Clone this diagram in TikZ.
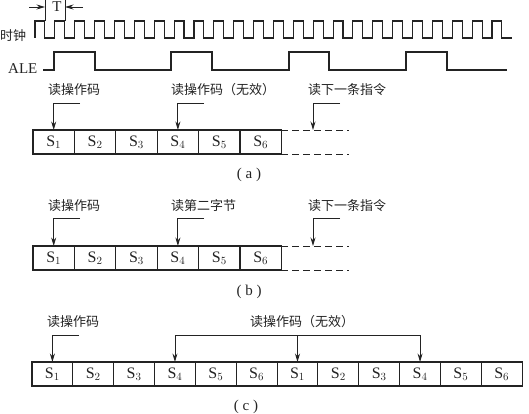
\documentclass[tikz,border=0pt]{standalone}
\usepackage{fontspec}
\setmainfont{Liberation Serif}
\newfontfamily\cjk{Noto Sans CJK SC}
\usetikzlibrary{arrows.meta,positioning}
\definecolor{ink}{RGB}{35,35,35}
\tikzset{
  >={Stealth[length=8.5pt,width=5pt]},
  x=1pt,y=-1pt,
  cell/.style={draw=ink,line width=1.1pt,minimum height=24pt,minimum width=#1,inner sep=0pt,outer sep=0pt,
    font=\fontsize{16}{16}\selectfont,text=ink},
  cell/.default=41.4pt,
  wave/.style={draw=ink,line width=1.1pt},
  lead/.style={->,draw=ink,line width=0.9pt},
  tag/.style={font=\cjk\fontsize{13}{13}\selectfont,text=ink,inner sep=0pt,anchor=west},
  subcap/.style={font=\fontsize{15}{15}\selectfont,text=ink,inner sep=0pt},
  trail/.style={draw=ink,line width=0.9pt,dash pattern=on 7pt off 4pt},
}
\begin{document}
\begin{tikzpicture}
  \useasboundingbox (0,0) rectangle (529,414);
  % clock
  \draw[wave] (35,38) \foreach \k in {0,...,23} {
      -- ++(0,-17) -- ++(9.93,0) -- ++(0,17) -- ++(9.94,0)};
  \node[tag,text=ink] (clk) at (0,36) {时钟};
  % ALE
  \node[font=\fontsize{15}{15}\selectfont,text=ink,inner sep=0pt,anchor=west] (ale) at (8,69) {ALE};
  \coordinate (aleend) at (507,70);
  \draw[wave] (43,70) -- (54,70) -- (54,52) -- (95,52) -- (95,70) -- (171,70) -- (171,52) -- (212,52) -- (212,70)
    -- (289,70) -- (289,52) -- (329,52) -- (329,70) -- (406,70) -- (406,52) -- (447,52) -- (447,70) -- (aleend);
  % period mark
  \coordinate (ta) at (45,0); \coordinate (tb) at (65,0);
  \coordinate (ta1) at (45,21); \coordinate (tb1) at (65,21);
  \draw[draw=ink,line width=0.7pt] (ta) -- (ta1) (tb) -- (tb1);
  \coordinate (tl) at (29,7); \coordinate (tr) at (83,7);
  \coordinate (tal) at (45,7); \coordinate (tbr) at (65,7);
  \draw[lead] (tl) -- (tal);
  \draw[lead] (tr) -- (tbr);
  \node[subcap] (T) at (57,7) {T};
  % row a
  \foreach \n [count=\i from 0] in {1,...,6}
    \node[cell] (a\n) at (53.7+41.4*\i,142) {S$_{\n}$};
  \coordinate (a7t) at (349,130); \coordinate (a7b) at (349,154);
  \draw[trail] (a6.north east) -- (a7t);
  \draw[trail] (a6.south east) -- (a7b);
  \node[tag] (la1) at (48,90) {读操作码};
  \node[tag] (la4) at (171,90) {读操作码（无效）};
  \node[tag] (la7) at (308,90) {读下一条指令};
  \coordinate (ha1) at (80,103); \coordinate (ha4) at (204,103); \coordinate (ha7) at (340,103);
  \coordinate (ea7) at (313,130);
  \draw[lead] (ha1) -- (a1.north|-ha1) -- (a1.north);
  \draw[lead] (ha4) -- (a4.north|-ha4) -- (a4.north);
  \draw[lead] (ha7) -- (ea7|-ha7) -- (ea7);
  \node[subcap] (capa) at (249,175) {( a )};
  % row b
  \foreach \n [count=\i from 0] in {1,...,6}
    \node[cell] (b\n) at (53.7+41.4*\i,258) {S$_{\n}$};
  \coordinate (b7t) at (349,246); \coordinate (b7b) at (349,270);
  \draw[trail] (b6.north east) -- (b7t);
  \draw[trail] (b6.south east) -- (b7b);
  \node[tag] (lb1) at (48,206) {读操作码};
  \node[tag] (lb4) at (171,206) {读第二字节};
  \node[tag] (lb7) at (308,206) {读下一条指令};
  \coordinate (hb1) at (80,218.5); \coordinate (hb4) at (204,218.5); \coordinate (hb7) at (340,218.5);
  \coordinate (eb7) at (313,246);
  \draw[lead] (hb1) -- (b1.north|-hb1) -- (b1.north);
  \draw[lead] (hb4) -- (b4.north|-hb4) -- (b4.north);
  \draw[lead] (hb7) -- (eb7|-hb7) -- (eb7);
  \node[subcap] (capb) at (249,292) {( b )};
  % row c
  \foreach \n [count=\i from 0] in {1,...,12} {
    \pgfmathtruncatemacro{\s}{mod(\n-1,6)+1}
    \node[cell=40.85pt] (c\n) at (52.4+40.85*\i,374) {S$_{\s}$};
  }
  \node[tag] (lc1) at (47,322) {读操作码};
  \node[tag] (lc4) at (250,322) {读操作码（无效）};
  \coordinate (hc1) at (79,335); \coordinate (hc) at (298,335);
  \draw[lead] (hc1) -- (c1.north|-hc1) -- (c1.north);
  \draw[lead] (c4.north|-hc) -- (c4.north);
  \draw[lead] (c7.north|-hc) -- (c7.north);
  \draw[lead] (c10.north|-hc) -- (c10.north);
  \draw[draw=ink,line width=0.9pt] (c4.north|-hc) -- (c10.north|-hc);
  \node[subcap] (capc) at (246,407) {( c )};
\end{tikzpicture}
\end{document}
